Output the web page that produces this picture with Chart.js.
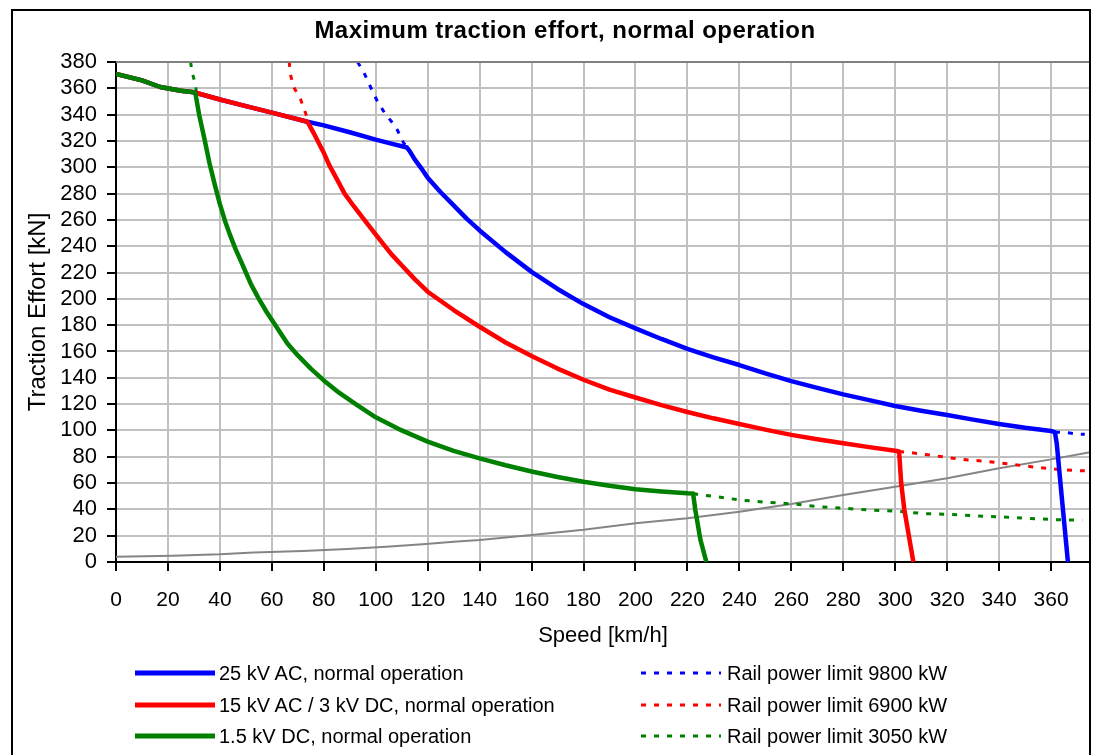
<!DOCTYPE html>
<html>
<head>
<meta charset="utf-8">
<script src="https://cdn.jsdelivr.net/npm/chart.js@4.4.1/dist/chart.umd.min.js"></script>
<style>
html,body{margin:0;padding:0;background:#fff;}
#wrap{position:relative;width:1095px;height:755px;overflow:hidden;font-family:Arial,"Liberation Sans",sans-serif;color:#000;}
#frame{position:absolute;left:11px;top:9px;width:1076px;height:800px;border:2px solid #000;pointer-events:none;}
#title{position:absolute;left:0;width:1130px;top:16px;line-height:28px;text-align:center;font-weight:bold;font-size:24px;letter-spacing:0.45px;}
#c{position:absolute;left:0;top:0;}
.leg{position:absolute;height:24px;line-height:24px;font-size:20px;white-space:nowrap;}
.leg svg{position:absolute;left:0;top:0;}
.leg span{position:absolute;top:0;}
</style>
</head>
<body>
<div id="wrap">
  <canvas id="c" width="1095" height="755"></canvas>
  <div id="title">Maximum traction effort, normal operation</div>
  <div id="legend"></div>
  <div id="frame"></div>
</div>
<script>
// ---- data ----
const blueSpeed = [0,10,17,25,30,40,50,60,73.7,80,90,100,106,112,113,115,118,120,125,130,135,140,150,160,170,180,190,200,210,220,230,240,250,260,270,280,290,300,310,320,330,340,350,360,361.5,362.2,364,366.5];
const blueTE    = [371,366,361,358.2,357,351.5,346.5,341.5,334.6,331.8,326.6,321,318,315,312.5,306,298,292,281,271,261,252,235.5,220.5,207.5,196,186,177.6,169.5,162,155.5,149.7,143.3,137.5,132.3,127.4,123,118.6,115,111.7,108.2,104.9,102,99.6,98.6,90,52,0];

const redSpeed = [0,10,17,25,30,40,50,60,73.7,75,76.1,78.7,80.1,82,85.3,88,91.7,96.8,101.7,106,110,115,120,130,140,150,160,170,180,190,200,210,220,230,240,250,260,270,280,290,300,301.5,302.3,303.5,307];
const redTE    = [371,366,361,358.2,357,351.5,346.5,341.5,334.6,330,326,316,310.6,302,290,280,270,257,244.7,234,225.5,215,205.4,191.5,178.8,166.8,156.5,147,138.5,131,125,119.2,114,109.2,104.9,100.6,96.6,93.3,90.2,87.3,84.6,84,60,40,0];

const greenSpeed = [0,10,17,25,30,30.6,32,34,36,38,40,42,44,46,48,50,52,55,58,62,66,70,75,80,86,93,100,110,120,130,140,150,160,170,180,190,200,210,220,222.2,223,225,227.3];
const greenTE    = [371,366,361,358.2,357,356,340,322,303,287,272,259,248,238,229,220,211,200,190,178,166,157,147,138,128.5,119,110,100,91.5,84.5,78.8,73.5,68.8,64.6,61,58,55.3,53.6,52.2,52,40,17,0];

const blueLimSpeed = [93,95.3,98,100.4,103.5,107.7,110.6,112,200,361.5,365.2,370.7,373];
const blueLimTE    = [380,372.6,361,351,341,330.8,319,315,null,98.6,98.5,97.2,97];

const redLimSpeed = [66.7,67.1,68.4,71,73,74,150,301.5,304.9,315.2,325.5,335.3,345.3,355.6,365.2,373];
const redLimTE    = [380,371,361,352,341,335,null,84,83.4,80.8,78,76.5,74.1,71.7,69.9,69.3];

const greenLimSpeed = [28.7,29.3,30.6,31,120,222.2,225.5,231.2,240.2,250.5,260.7,271,280.6,290,301,311,321,331,341,351,361,372];
const greenLimTE    = [380,372.6,362.5,356,null,52,50.9,49.6,47.1,45.4,44.1,42,40.8,39.5,38.5,36.8,36.2,35,34.2,33.2,32.2,31.7];

const resistSpeed = [0,22,40,53,72,89,104,118,130,140,160,180,200,220,240,260,280,300,320,340,360,375];
const resistTE    = [4.0,4.8,5.9,7.3,8.4,9.9,11.6,13.4,15.4,16.7,20.5,24.5,29.4,33.2,38.2,44.1,50.9,57.2,63.6,71.2,78,83.5];

const seriesLabels = [
  '25 kV AC, normal operation',
  '15 kV AC / 3 kV DC, normal operation',
  '1.5 kV DC, normal operation',
  'Rail power limit 9800 kW',
  'Rail power limit 6900 kW',
  'Rail power limit 3050 kW'
];
const xTitle = 'Speed [km/h]';
const yTitle = 'Traction Effort [kN]';
const xMin = 0, xMax = 375, xStep = 20;
const yMin = 0, yMax = 380, yStep = 20;

// ---- chart ----
const pts = (xs, ys) => xs.map((x, i) => ({x: x, y: ys[i]}));
const FONT = 'Arial, "Liberation Sans", sans-serif';

function solid(label, xs, ys, color, order) {
  return {label, data: pts(xs, ys), borderColor: color, backgroundColor: color,
    borderWidth: 4.5, pointRadius: 0, tension: 0, order, fill: false, borderJoinStyle: 'round'};
}
function dotted(label, xs, ys, color, order) {
  return {label, data: pts(xs, ys), borderColor: color, backgroundColor: color,
    borderWidth: 3, borderDash: [5, 8], pointRadius: 0, tension: 0, order, fill: false, spanGaps: false};
}

const datasets = [
  solid(seriesLabels[0], blueSpeed, blueTE, '#0000ff', 3),
  solid(seriesLabels[1], redSpeed, redTE, '#ff0000', 2),
  solid(seriesLabels[2], greenSpeed, greenTE, '#008000', 1),
  dotted(seriesLabels[3], blueLimSpeed, blueLimTE, '#0000ff', 4),
  dotted(seriesLabels[4], redLimSpeed, redLimTE, '#ff0000', 5),
  dotted(seriesLabels[5], greenLimSpeed, greenLimTE, '#008000', 6),
  {label: 'resistance', data: pts(resistSpeed, resistTE), borderColor: '#858585',
   borderWidth: 2, pointRadius: 0, tension: 0, order: 7, fill: false}
];

const plotFrame = {
  id: 'plotFrame',
  afterDraw(chart) {
    const {ctx, chartArea: a} = chart;
    ctx.save();
    ctx.strokeStyle = '#808080';
    ctx.lineWidth = 2;
    ctx.beginPath();
    ctx.moveTo(a.left, a.top);
    ctx.lineTo(a.right, a.top);
    ctx.stroke();
    ctx.restore();
  }
};

const chart = new Chart(document.getElementById('c'), {
  type: 'line',
  data: {datasets},
  plugins: [plotFrame],
  options: {
    responsive: false,
    animation: false,
    events: [],
    layout: {padding: {left: 14, right: 5, top: 62, bottom: 102}},
    plugins: {legend: {display: false}, tooltip: {enabled: false}, title: {display: false}},
    scales: {
      x: {
        type: 'linear', min: xMin, max: xMax,
        ticks: {stepSize: xStep, includeBounds: false, autoSkip: false, maxRotation: 0,
          color: '#000', padding: 17, font: {family: FONT, size: 21}},
        grid: {color: '#c0c0c0', lineWidth: 2, tickColor: '#000', tickLength: 9, tickWidth: 2},
        border: {display: true, color: '#000', width: 2},
        title: {display: true, text: xTitle, color: '#000', font: {family: FONT, size: 22},
          padding: {top: 0, bottom: 4}},
        afterFit(s) { s.height = 91; }
      },
      y: {
        type: 'linear', min: yMin, max: yMax,
        ticks: {stepSize: yStep, autoSkip: false, color: '#000', padding: 10,
          font: {family: FONT, size: 22}},
        grid: {color: '#c0c0c0', lineWidth: 2, tickColor: '#000', tickLength: 9, tickWidth: 2},
        border: {display: true, color: '#000', width: 2},
        title: {display: true, text: yTitle, color: '#000', font: {family: FONT, size: 24},
          padding: {top: 10, bottom: 0}},
        afterFit(s) { s.width = 102; }
      }
    }
  }
});

// ---- legend (HTML, generated from datasets) ----
const legend = document.getElementById('legend');
const rowsY = [673, 705, 736];
const colX = [135, 641];
for (let i = 0; i < 6; i++) {
  const ds = datasets[i];
  const col = i < 3 ? 0 : 1, row = i % 3;
  const d = document.createElement('div');
  d.className = 'leg';
  d.style.left = colX[col] + 'px';
  d.style.top = (rowsY[row] - 12) + 'px';
  const dash = ds.borderDash ? 'stroke-dasharray="5 8"' : '';
  const w = ds.borderDash ? 3 : 5;
  d.innerHTML = '<svg width="80" height="24"><line x1="0" y1="12" x2="80" y2="12" stroke="' + ds.borderColor +
    '" stroke-width="' + w + '" ' + dash + '/></svg><span style="left:' + (col === 0 ? 84 : 86) + 'px">' + ds.label + '</span>';
  legend.appendChild(d);
}
</script>
</body>
</html>
